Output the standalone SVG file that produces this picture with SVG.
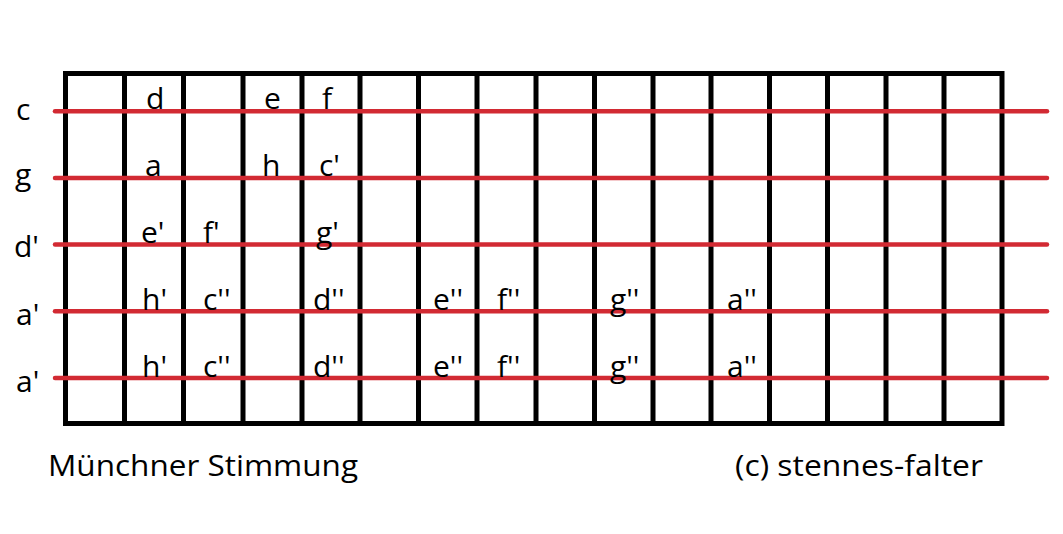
<svg xmlns="http://www.w3.org/2000/svg" width="1063" height="534" viewBox="0 0 1063 534">
<style>
.fret{stroke:#000;stroke-width:5;fill:none}
.str{stroke:#d22a33;stroke-width:4.5;stroke-linecap:round}
text{font-family:"Open Sans","Liberation Sans",sans-serif;font-size:30px;fill:#000}
.cap{font-size:29px}
</style>
<rect width="1063" height="534" fill="#fff"/>
<g id="frets">
<rect class="fret" x="65.5" y="73.5" width="936.5" height="350"/>
<path class="fret" d="M124.5 73.5V423.5M183.5 73.5V423.5M243 73.5V423.5M302 73.5V423.5M360 73.5V423.5M418.5 73.5V423.5M477 73.5V423.5M536 73.5V423.5M594.5 73.5V423.5M653 73.5V423.5M711 73.5V423.5M769.5 73.5V423.5M827.5 73.5V423.5M886 73.5V423.5M944 73.5V423.5"/>
</g>
<g id="strings">
<line class="str" x1="55" y1="111.3" x2="1047" y2="111.3"/>
<line class="str" x1="55" y1="178" x2="1047" y2="178"/>
<line class="str" x1="55" y1="244.6" x2="1047" y2="244.6"/>
<line class="str" x1="55" y1="311.3" x2="1047" y2="311.3"/>
<line class="str" x1="55" y1="378" x2="1047" y2="378"/>
</g>
<g id="tuning">
<text x="16" y="119.5">c</text>
<text x="15" y="185">g</text>
<text x="14" y="256.5">d'</text>
<text x="16" y="324.5">a'</text>
<text x="16" y="391.5">a'</text>
</g>
<g id="notes">
<text x="146" y="108.5">d</text>
<text x="264" y="108.5">e</text>
<text x="322" y="108.5">f</text>
<text x="145" y="176">a</text>
<text x="262" y="176">h</text>
<text x="319" y="176">c'</text>
<text x="141" y="242.5">e'</text>
<text x="203" y="242.5">f'</text>
<text x="316" y="242.5">g'</text>
<text x="142" y="309.5">h'</text>
<text x="203" y="309.5">c''</text>
<text x="313" y="309.5">d''</text>
<text x="433" y="309.5">e''</text>
<text x="497" y="309.5">f''</text>
<text x="610" y="309.5">g''</text>
<text x="727" y="309.5">a''</text>
<text x="142" y="376.5">h'</text>
<text x="203" y="376.5">c''</text>
<text x="313" y="376.5">d''</text>
<text x="433" y="376.5">e''</text>
<text x="497" y="376.5">f''</text>
<text x="610" y="376.5">g''</text>
<text x="727" y="376.5">a''</text>
</g>
<g id="captions">
<text class="cap" x="48" y="476" textLength="310" lengthAdjust="spacingAndGlyphs">Münchner Stimmung</text>
<text class="cap" x="735" y="476" textLength="248" lengthAdjust="spacingAndGlyphs">(c) stennes-falter</text>
</g>
</svg>
